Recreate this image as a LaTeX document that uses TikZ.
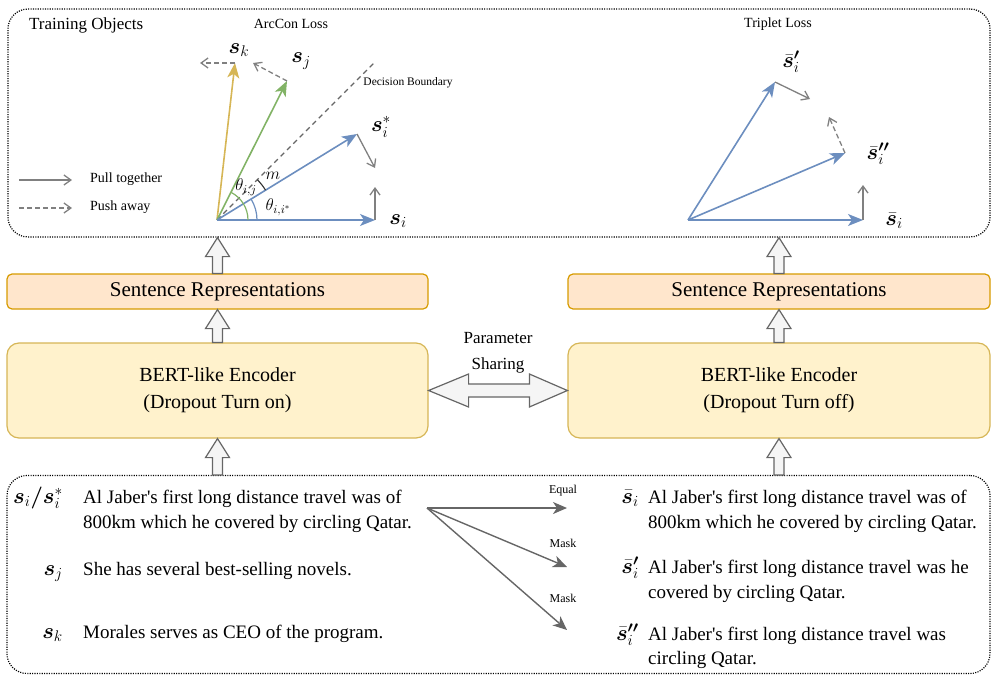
\RequirePackage{fix-cm}
\documentclass[tikz,border=0pt]{standalone}
\usepackage{amsmath}
\usepackage{bm}
\usepackage{fontspec}
\setmainfont{Liberation Serif}[Ligatures=TeXOff]
\usetikzlibrary{arrows.meta,calc}
\definecolor{vblue}{HTML}{6C8EBF}
\definecolor{vgreen}{HTML}{82B366}
\definecolor{vyellow}{HTML}{D6B656}
\definecolor{pgray}{HTML}{808080}
\definecolor{dgray}{HTML}{666666}
\definecolor{srfill}{HTML}{FFE6CC}
\definecolor{srdraw}{HTML}{D79B00}
\definecolor{encfill}{HTML}{FFF2CC}
\definecolor{encdraw}{HTML}{D6B656}
\definecolor{flexfill}{HTML}{F5F5F5}
\newcommand\fs[1]{\fontsize{#1}{#1}\selectfont}
\newcommand\flexup[2]{%
  \path[flexarrow] let \p1=(#1), \p2=(#2) in
    (\x1-5pt,\y1) -- (\x1-5pt,\y2-19pt) -- (\x1-12pt,\y2-19pt) -- (\x1,\y2)
    -- (\x1+12pt,\y2-19pt) -- (\x1+5pt,\y2-19pt) -- (\x1+5pt,\y1) -- cycle;}
\begin{document}
\begin{tikzpicture}[x=1pt,y=1pt,
  dotbox/.style={draw=black,line width=1.2pt,dash pattern=on 1.1pt off 1.3pt,rounded corners=20pt,inner sep=0pt},
  srbox/.style={draw=srdraw,fill=srfill,line width=1.2pt,rounded corners=5pt,minimum width=421pt,minimum height=35pt,inner sep=0pt,font=\fs{21}},
  encbox/.style={draw=encdraw,fill=encfill,line width=1.2pt,rounded corners=12pt,minimum width=421pt,minimum height=95pt,inner sep=0pt,align=center,font=\fontsize{20}{27}\selectfont},
  flexarrow/.style={draw=dgray,fill=flexfill,line width=1.2pt,line join=miter},
  vec/.style={line width=1.6pt,-{Stealth[length=15pt,width=12pt,inset=4pt]}},
  pull/.style={draw=pgray,line width=1.3pt,-{Straight Barb[length=7pt,width=10pt]}},
  push/.style={pull,dash pattern=on 5pt off 3pt},
  bline/.style={draw=dgray,line width=1.4pt,-{Stealth[length=14pt,width=12pt,inset=4pt]}},
  txt/.style={anchor=base west,inner sep=0pt,font=\fs{19}},
  lab/.style={inner sep=0pt,font=\fs{22}},
  small/.style={inner sep=0pt,font=\fs{14}},
  tiny/.style={inner sep=0pt,font=\fs{12}}]
\useasboundingbox (0,0) rectangle (999,-685);

% ---------- boxes ----------
\node[dotbox,minimum width=982pt,minimum height=228pt] (train) at (499,-123) {};
\node[dotbox,minimum width=983pt,minimum height=198pt] (bot) at (498.5,-574.5) {};
\node[srbox] (sr1) at (217.5,-291.5) {Sentence Representations};
\node[srbox,minimum width=422pt] (sr2) at (779,-291.5) {Sentence Representations};
\node[encbox] (enc1) at (217.5,-390.5) {BERT-like Encoder\\(Dropout Turn on)};
\node[encbox,minimum width=422pt] (enc2) at (779,-390.5) {BERT-like Encoder\\(Dropout Turn off)};

% ---------- block arrows ----------
\flexup{sr1.north}{sr1.north |- train.south}
\flexup{enc1.north}{sr1.south}
\flexup{enc1.south |- bot.north}{enc1.south}
\flexup{sr2.north}{sr2.north |- train.south}
\flexup{enc2.north}{sr2.south}
\flexup{enc2.south |- bot.north}{enc2.south}
\path[flexarrow] let \p1=(enc1.east), \p2=(enc2.west) in
  (\x1,\y1) -- (\x1+40pt,\y1+16.5pt) -- (\x1+40pt,\y1+6.5pt) -- (\x2-38pt,\y1+6.5pt)
  -- (\x2-38pt,\y1+16.5pt) -- (\x2,\y1) -- (\x2-38pt,\y1-16.5pt) -- (\x2-38pt,\y1-6.5pt)
  -- (\x1+40pt,\y1-6.5pt) -- (\x1+40pt,\y1-16.5pt) -- cycle;
\node[inner sep=0pt,align=center,font=\fontsize{17}{26}\selectfont] (ps) at (498,-353) {Parameter\\Sharing};

% ---------- top: titles and legend ----------
\node[anchor=west,inner sep=0pt,font=\fs{17}] (tobj) at (29,-25) {Training Objects};
\node[small] (arc) at (291,-24) {ArcCon Loss};
\node[small] (tri) at (778,-24) {Triplet Loss};
\coordinate (l1a) at (19,-180); \coordinate (l1b) at (72,-180);
\coordinate (l2a) at (19,-208); \coordinate (l2b) at (72,-208);
\draw[pull] (l1a) -- (l1b);
\draw[push] (l2a) -- (l2b);
\node[small,anchor=west] (lpull) at (90,-179) {Pull together};
\node[small,anchor=west] (lpush) at (90,-207) {Push away};

% ---------- ArcCon ----------
\coordinate (O) at (217,-220);
\coordinate (si) at (375,-220);
\coordinate (sis) at (357,-134);
\coordinate (sj) at (287,-81);
\coordinate (sk) at (235,-63);
\coordinate (db) at (375,-62);
\draw[dgray,line width=1.3pt,dash pattern=on 5pt off 4pt] (O) -- (db);
\draw[vec,vyellow] (O) -- (sk);
\draw[vec,vgreen] (O) -- (sj);
\draw[vec,vblue] (O) -- (sis);
\draw[vec,vblue] (O) -- (si);
\draw[vgreen,line width=1.2pt] (O) ++(31,0) arc[start angle=0,end angle=63,radius=31];
\draw[vblue,line width=1.2pt] (O) ++(40,0) arc[start angle=0,end angle=31.6,radius=40];
\draw[black!80,line width=1.1pt] (O) ++(31.6:57) arc[start angle=31.6,end angle=45,radius=57];
\coordinate (sisE) at (375,-168);
\coordinate (siU) at (375,-187);
\coordinate (sjE) at (253,-63);
\coordinate (skE) at (200,-63);
\draw[pull] (sis) -- (sisE);
\draw[pull] (si) -- (siU);
\draw[push] (sj) -- (sjE);
\draw[push] (sk) -- (skE);
\node[lab] (Lsi) at (398,-221) {$\bm{s}_i$};
\node[lab] (Lsis) at (381,-127) {$\bm{s}_i^*$};
\node[lab] (Lsj) at (301,-61) {$\bm{s}_j$};
\node[lab] (Lsk) at (239,-50) {$\bm{s}_k$};
\node[inner sep=0pt,font=\fs{11.5}] (Ldb) at (408,-83) {Decision Boundary};
\node[inner sep=0pt,font=\fs{17}] (Lm) at (273,-176) {$m$};
\node[inner sep=0pt,font=\fs{17}] (Ltj) at (246,-187) {$\theta_{i,j}$};
\node[inner sep=0pt,font=\fs{17}] (Lti) at (278,-207) {$\theta_{i,i^*}$};

% ---------- Triplet ----------
\coordinate (P) at (688,-220);
\coordinate (ti) at (863,-220);
\coordinate (tp) at (775,-82);
\coordinate (tpp) at (845,-153);
\draw[vec,vblue] (P) -- (tp);
\draw[vec,vblue] (P) -- (tpp);
\draw[vec,vblue] (P) -- (ti);
\coordinate (tpE) at (810,-99);
\coordinate (tppE) at (829,-117);
\coordinate (tiU) at (863,-185);
\draw[pull] (tp) -- (tpE);
\draw[push] (tpp) -- (tppE);
\draw[pull] (ti) -- (tiU);
\node[lab] (Lti2) at (894,-221) {$\bar{\bm{s}}_i$};
\node[lab] (Ltp) at (791,-62) {$\bar{\bm{s}}_i^{\bm{\prime}}$};
\node[lab] (Ltpp) at (878,-154) {$\bar{\bm{s}}_i^{\bm{\prime\prime}}$};

% ---------- bottom: sentences ----------
\node[lab,anchor=base east] (m1) at (63,-503) {$\bm{s}_i\bm{/}\bm{s}_i^*$};
\node[txt] (a1) at (83,-503) {Al Jaber's first long distance travel was of};
\node[txt] (a2) at (83,-528) {800km which he covered by circling Qatar.};
\node[lab,anchor=base east] (m2) at (63,-575) {$\bm{s}_j$};
\node[txt] (b1) at (83,-575) {She has several best-selling novels.};
\node[lab,anchor=base east] (m3) at (63,-638) {$\bm{s}_k$};
\node[txt] (c1) at (83,-638) {Morales serves as CEO of the program.};

\node[lab,anchor=base east] (n1) at (639,-503) {$\bar{\bm{s}}_i$};
\node[txt] (d1) at (648,-503) {Al Jaber's first long distance travel was of};
\node[txt] (d2) at (648,-528) {800km which he covered by circling Qatar.};
\node[lab,anchor=base east] (n2) at (639,-573) {$\bar{\bm{s}}_i^{\bm{\prime}}$};
\node[txt] (e1) at (648,-573) {Al Jaber's first long distance travel was he};
\node[txt] (e2) at (648,-598) {covered by circling Qatar.};
\node[lab,anchor=base east] (n3) at (639,-640) {$\bar{\bm{s}}_i^{\bm{\prime\prime}}$};
\node[txt] (f1) at (648,-640) {Al Jaber's first long distance travel was};
\node[txt] (f2) at (648,-664) {circling Qatar.};

% ---------- bottom arrows ----------
\coordinate (split) at (427,-508);
\coordinate (eqE) at (567,-508);
\coordinate (mk1E) at (567,-567);
\coordinate (mk2E) at (567,-630);
\draw[bline] (split) -- (eqE);
\draw[bline] (split) -- (mk1E);
\draw[bline] (split) -- (mk2E);
\node[tiny] (leq) at (563,-491) {Equal};
\node[tiny] (lm1) at (563,-543) {Mask};
\node[tiny] (lm2) at (563,-598) {Mask};
\end{tikzpicture}
\end{document}
